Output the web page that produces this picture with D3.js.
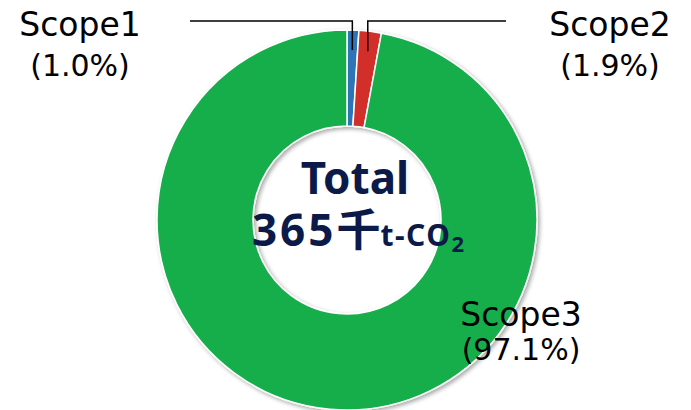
<!DOCTYPE html>
<html>
<head>
<meta charset="utf-8">
<script src="https://cdn.jsdelivr.net/npm/d3@7"></script>
<style>
  body { margin: 0; background: #fff; }
  svg { display: block; }
  .lbl { font-family: "DejaVu Sans", Verdana, sans-serif; fill: #000; }
  .total { font-family: "Noto Sans", "Noto Sans CJK JP", sans-serif; font-weight: bold; fill: #0b1a48; }
</style>
</head>
<body>
<div id="chart"></div>
<script>
// scope shares (% of total)
var scopes = ["Scope1", "Scope2", "Scope3"];
var shares = [1.0, 1.9, 97.1];
var pctLabels = ["(1.0%)", "(1.9%)", "(97.1%)"];
var colors = ["#2e74b8", "#d22e2b", "#17ae4c"];
var totalValue = "365";

var w = 691, h = 410,
    cx = 347, cy = 220,
    rOut = 190, rIn = 94;

var svg = d3.select("#chart").append("svg")
    .attr("width", w)
    .attr("height", h);

var defs = svg.append("defs");
var f = defs.append("filter").attr("id", "shadow")
    .attr("x", "-10%").attr("y", "-10%").attr("width", "120%").attr("height", "120%");
f.append("feDropShadow")
    .attr("dx", 2).attr("dy", 2).attr("stdDeviation", 2)
    .attr("flood-color", "#000").attr("flood-opacity", 0.35);

var data = scopes.map(function(s, i){ return {name: s, value: shares[i], pct: pctLabels[i]}; });

var pie = d3.pie().sort(null).value(function(d){ return d.value; });
var arc = d3.arc().innerRadius(rIn).outerRadius(rOut);
var arcs = pie(data);

var g = svg.append("g").attr("transform", "translate(" + cx + "," + cy + ")");

g.append("g").attr("filter", "url(#shadow)")
  .selectAll("path")
  .data(arcs)
  .enter().append("path")
    .attr("d", arc)
    .attr("fill", function(d, i){ return colors[i]; })
    .attr("stroke", "#fff")
    .attr("stroke-width", 1.5);

// leader lines for the two thin slices
var lineY = 21, rLead = 170;
function leadPoint(d){
  var a = (d.startAngle + d.endAngle) / 2;
  return [cx + rLead * Math.sin(a), cy - rLead * Math.cos(a)];
}
var p1 = leadPoint(arcs[0]), p2 = leadPoint(arcs[1]);

svg.append("polyline")
    .attr("points", [[190, lineY], [p1[0], lineY], p1].join(" "))
    .attr("fill", "none").attr("stroke", "#000").attr("stroke-width", 1.5);
svg.append("polyline")
    .attr("points", [[506, lineY], [p2[0], lineY], p2].join(" "))
    .attr("fill", "none").attr("stroke", "#000").attr("stroke-width", 1.5);

// labels
var labelPos = [[80, 36], [610, 36], [521, 326]];
var pctGap = [40, 40, 34];
data.forEach(function(d, i){
  svg.append("text").attr("class", "lbl")
      .attr("x", labelPos[i][0]).attr("y", labelPos[i][1])
      .attr("text-anchor", "middle")
      .style("font-size", "33px")
      .text(d.name);
  svg.append("text").attr("class", "lbl")
      .attr("x", labelPos[i][0]).attr("y", labelPos[i][1] + pctGap[i])
      .attr("text-anchor", "middle")
      .style("font-size", "30px")
      .text(d.pct);
});

// center total
svg.append("text").attr("class", "total")
    .attr("x", 355).attr("y", 194)
    .attr("text-anchor", "middle")
    .style("font-size", "44px")
    .text("Total");

var t2 = svg.append("text").attr("class", "total")
    .attr("x", 358).attr("y", 246)
    .attr("text-anchor", "middle");
t2.append("tspan").style("font-size", "44px").style("letter-spacing", "3px").text(totalValue);
t2.append("tspan").style("font-size", "44px")
    .style("font-family", "'Noto Sans CJK JP', sans-serif").text("千");
t2.append("tspan").style("font-size", "30px").style("letter-spacing", "1.5px").text("t-CO");
t2.append("tspan").style("font-size", "22px").attr("dy", 6).text("2");
</script>
</body>
</html>
